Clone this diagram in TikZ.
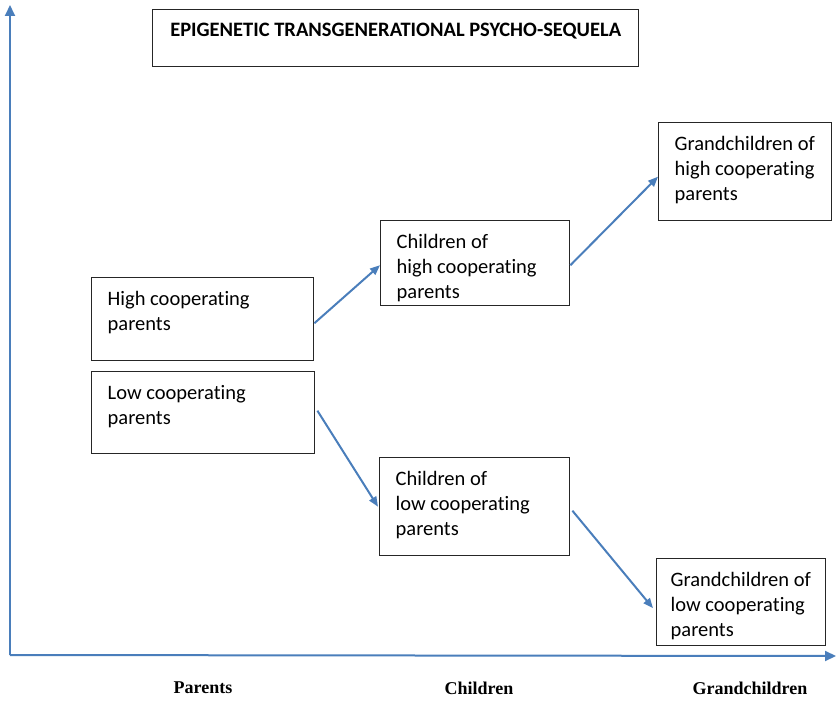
\documentclass[tikz,border=0pt]{standalone}
\usepackage{fontspec}
\setmainfont{Carlito}[Ligatures=NoCommon]
\newfontfamily\genfont{Liberation Serif}
\usetikzlibrary{arrows.meta}
\definecolor{arrow-blue}{HTML}{4A7EBB}
\definecolor{frame-grey}{HTML}{262626}
% text of a box, set from its top: width, height, lines
\newcommand{\boxtext}[3]{\parbox[t][\dimexpr#2pt-27pt\relax][t]{\dimexpr#1pt-32pt\relax}{#3}}

\begin{document}
\begin{tikzpicture}[x=1pt, y=-1pt,
    box/.style={draw=frame-grey, line width=1.4pt, anchor=north west,
        inner xsep=16pt, inner ysep=13.5pt, font=\fontsize{20.5}{25}\selectfont},
    link/.style={arrow-blue, line width=2pt, -{Triangle[length=10pt,width=8pt]}},
    axis/.style={arrow-blue, line width=2pt, -{Triangle[length=11pt,width=10pt]}},
    gen/.style={font=\genfont\bfseries\fontsize{18}{22}\selectfont}]
    \useasboundingbox (0,0) rectangle (837,701);

    % axes
    \coordinate (origin) at (10,655);
    \coordinate (ytip) at (10,5);
    \coordinate (xtip) at (836,656);
    \draw[axis] (origin) -- (ytip);
    \draw[axis] (origin) -- (xtip);

    % boxes
    \node[box] (title) at (152,9) {\boxtext{486}{57}{\centering\bfseries EPIGENETIC TRANSGENERATIONAL PSYCHO-SEQUELA}};
    \node[box] (high) at (91,277) {\boxtext{222}{83}{High cooperating\\parents}};
    \node[box] (low) at (91,371) {\boxtext{223}{82}{Low cooperating\\parents}};
    \node[box] (chigh) at (380,220) {\boxtext{189}{85}{Children of\\high cooperating\\parents}};
    \node[box] (clow) at (379,457) {\boxtext{190}{98}{Children of\\low cooperating\\parents}};
    \node[box] (ghigh) at (658,122) {\boxtext{173}{98}{Grandchildren of\\high cooperating\\parents}};
    \node[box, inner xsep=14pt] (glow) at (656,558) {\boxtext{173}{87}{Grandchildren of\\low cooperating\\parents}};

    % generations
    \draw[link] ([yshift=-4pt]high.east) -- ([yshift=-2pt]chigh.west);
    \draw[link] ([yshift=-2pt]chigh.east) -- ([yshift=-5pt]ghigh.west);
    \draw[link] ([xshift=2pt,yshift=2pt]low.east) -- ([xshift=-1pt]clow.west);
    \draw[link] ([xshift=2pt,yshift=-4pt]clow.east) -- ([xshift=-3pt,yshift=-6pt]glow.west);

    \node[gen] (parents) at (203,688) {Parents};
    \node[gen] (children) at (479,688) {Children};
    \node[gen] (grandchildren) at (750,688) {Grandchildren};
\end{tikzpicture}
\end{document}
